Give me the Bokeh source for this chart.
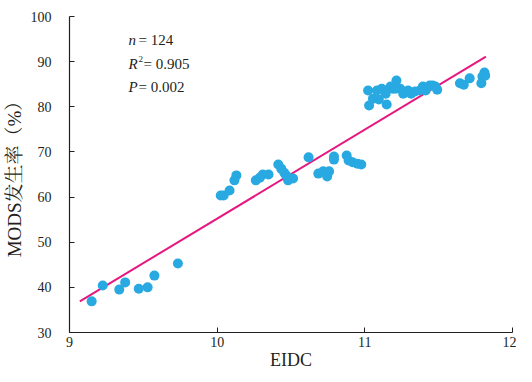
from bokeh.plotting import figure
from bokeh.models import Range1d, FixedTicker, Label, ColumnDataSource
from bokeh.embed import file_html
from bokeh.resources import INLINE

# ---- data ----
EIDC = [9.15, 9.225, 9.337, 9.377, 9.469, 9.529, 9.575, 9.734,
        10.024, 10.044, 10.084, 10.117, 10.13, 10.262, 10.289, 10.309, 10.348,
        10.414, 10.434, 10.454, 10.467, 10.48, 10.514, 10.619, 10.685, 10.718,
        10.745, 10.758, 10.791, 10.791, 10.877, 10.89, 10.917, 10.95, 10.976,
        11.022, 11.029, 11.055, 11.082, 11.095, 11.115, 11.141, 11.148, 11.174,
        11.188, 11.208, 11.214, 11.24, 11.26, 11.293, 11.313, 11.34, 11.373,
        11.393, 11.412, 11.439, 11.459, 11.478, 11.49, 11.644, 11.67, 11.71,
        11.789, 11.796, 11.81, 11.815]
MODS = [36.9, 40.4, 39.5, 41.1, 39.7, 40.0, 42.6, 45.3,
        60.35, 60.35, 61.45, 63.7, 64.8, 63.7, 64.3, 65.0, 65.0,
        67.2, 66.3, 65.4, 64.8, 63.7, 64.1, 68.8, 65.2, 65.7,
        64.55, 65.7, 69.0, 68.3, 69.2, 68.1, 67.7, 67.4, 67.2,
        83.6, 80.3, 81.8, 83.6, 81.6, 84.0, 82.9, 80.5, 84.5,
        84.0, 84.0, 85.8, 84.0, 82.9, 83.6, 82.9, 83.4, 83.6,
        84.5, 83.6, 84.7, 84.7, 84.5, 83.8, 85.2, 84.9, 86.3,
        85.2, 86.7, 87.6, 86.9]
FIT_X = [9.07, 11.82]
FIT_Y = [36.9, 91.1]
X_TICKS = [9, 10, 11, 12]
Y_TICKS = [30, 40, 50, 60, 70, 80, 90, 100]
STAT_N = "124"
STAT_R2 = "0.905"
STAT_P = "0.002"

SERIF = "Liberation Serif"
CJK = "'Liberation Serif', 'Noto Serif CJK SC', 'Noto Sans CJK SC'"
TXT = "#231f20"

p = figure(width=516, height=372, output_backend="svg", toolbar_location=None,
           x_range=Range1d(9, 12), y_range=Range1d(30, 100),
           min_border_left=60, min_border_right=4, min_border_top=16,
           min_border_bottom=38)
p.outline_line_color = None
p.xgrid.grid_line_color = None
p.ygrid.grid_line_color = None

src = ColumnDataSource(dict(x=EIDC, y=MODS))
p.line(FIT_X, FIT_Y, line_color="#e6177f", line_width=2)
p.scatter("x", "y", source=src, size=10, fill_color="#29a9e1",
          line_color="#29a9e1", line_width=0)

for ax in (p.xaxis[0], p.yaxis[0]):
    ax.axis_line_color = TXT
    ax.axis_line_width = 1.2
    ax.major_tick_line_color = TXT
    ax.major_tick_in = 5
    ax.major_tick_out = 0
    ax.minor_tick_line_color = None
    ax.major_label_text_font = SERIF
    ax.major_label_text_font_size = "14px"
    ax.major_label_text_color = TXT
    ax.axis_label_text_font_style = "normal"
    ax.axis_label_text_color = TXT
    ax.axis_label_text_font_size = "18px"

p.xaxis[0].ticker = FixedTicker(ticks=X_TICKS)
p.yaxis[0].ticker = FixedTicker(ticks=Y_TICKS)
p.xaxis[0].axis_label = "EIDC"
p.xaxis[0].axis_label_text_font = SERIF
p.xaxis[0].major_label_standoff = 4
p.xaxis[0].axis_label_standoff = 0
p.yaxis[0].axis_label = "MODS发生率（%）"
p.yaxis[0].axis_label_text_font = CJK
p.yaxis[0].axis_label_text_font_size = "19px"
p.yaxis[0].major_label_standoff = 18
p.yaxis[0].axis_label_standoff = 3

def lab(x, y, t, xo=0, yo=0, italic=False, size="15px"):
    p.add_layout(Label(x=x, y=y, text=t, x_offset=xo, y_offset=yo,
                       text_font=SERIF, text_font_size=size, text_color=TXT,
                       text_font_style="italic" if italic else "normal",
                       text_baseline="middle", text_align="left"))

lab(9.40, 94.7, "n", italic=True)
lab(9.40, 94.7, "= " + STAT_N, xo=10)
lab(9.40, 89.4, "R", italic=True)
lab(9.40, 89.4, "2", xo=10, yo=5, size="9px")
lab(9.40, 89.4, "= " + STAT_R2, xo=15)
lab(9.40, 84.3, "P", italic=True)
lab(9.40, 84.3, "= " + STAT_P, xo=10)

open("out.html", "w").write(file_html(p, INLINE))
